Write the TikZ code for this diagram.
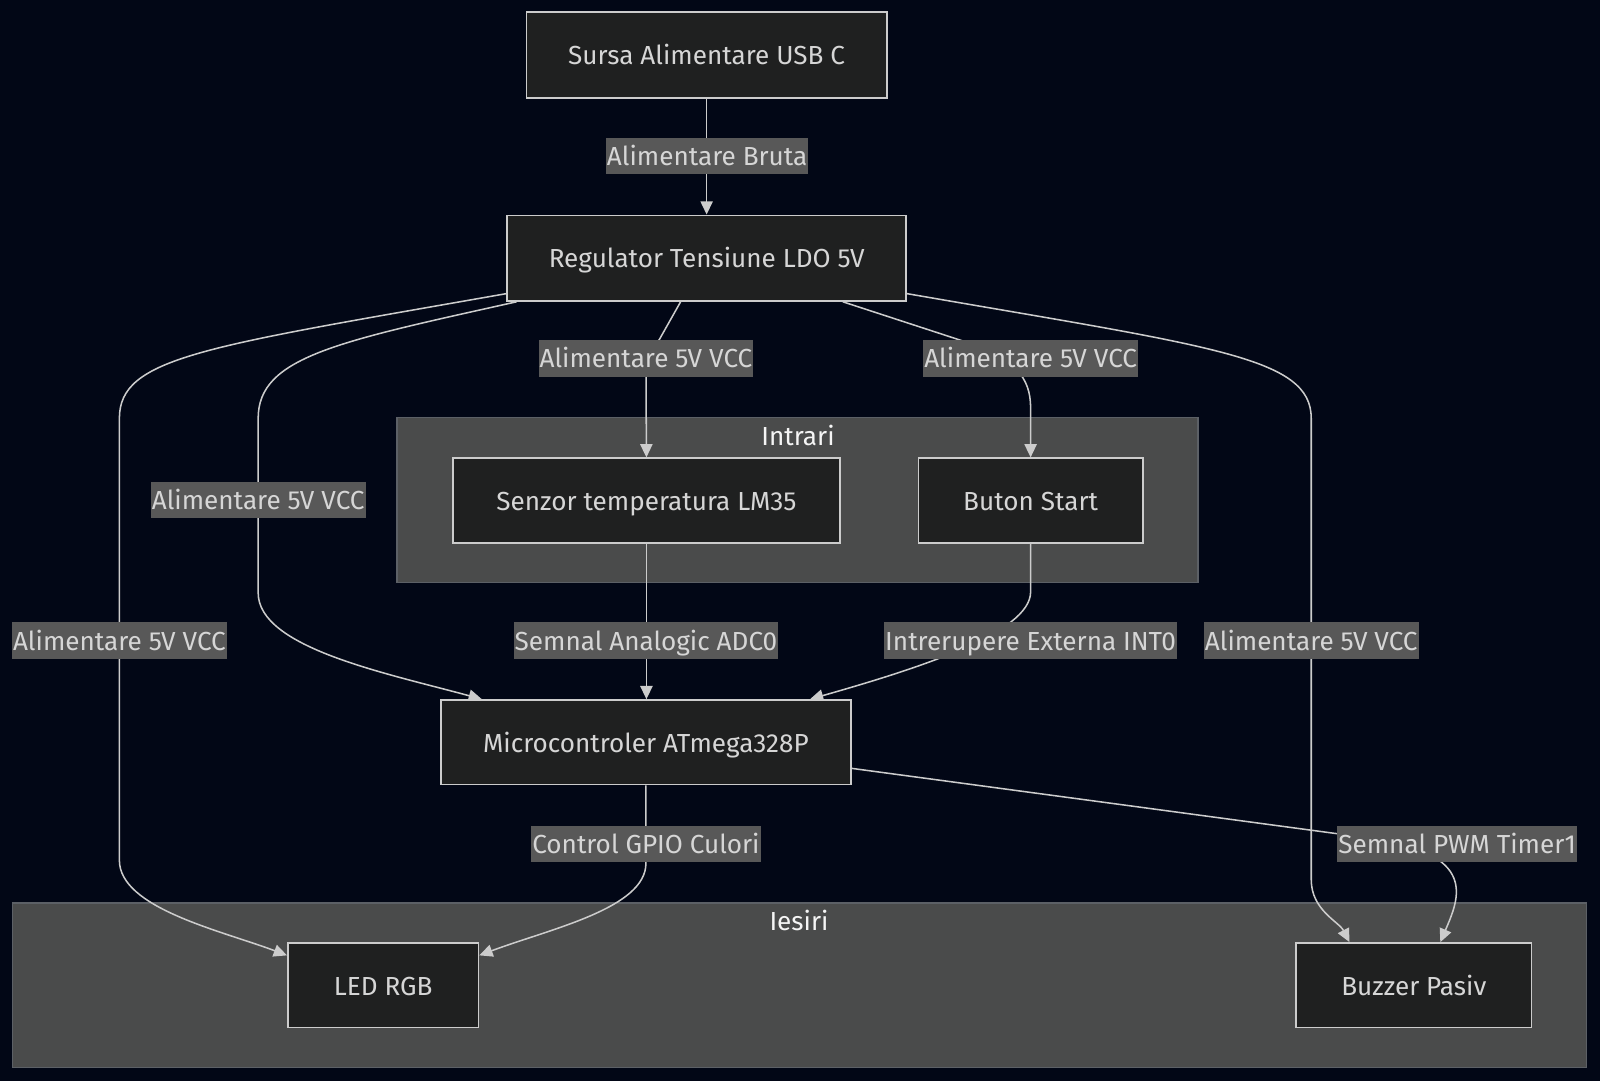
\documentclass[tikz,border=0pt]{standalone}
\usepackage{fontspec}
\setmainfont{Fira Sans}
\usetikzlibrary{arrows.meta}
\definecolor{bgnavy}{RGB}{2,7,22}
\definecolor{boxfill}{RGB}{31,32,32}
\definecolor{boxline}{RGB}{204,204,204}
\definecolor{grpfill}{RGB}{74,75,75}
\definecolor{grpline}{RGB}{92,96,102}
\definecolor{lblfill}{RGB}{88,88,88}
\definecolor{txtgray}{RGB}{214,214,214}
\pgfdeclarelayer{back}
\pgfdeclarelayer{wires}
\pgfsetlayers{back,wires,main}
\tikzset{
	every node/.style={text height=10.7pt, text depth=1.1pt},
	block/.style={draw=boxline, fill=boxfill, line width=0.75pt, text=txtgray, minimum height=42pt, inner sep=0pt},
	group/.style={draw=grpline, fill=grpfill, line width=0.6pt, inner sep=0pt, text height=, text depth=},
	grouptitle/.style={text=white!92!gray, inner sep=0pt},
	wlabel/.style={fill=lblfill, text=txtgray, inner xsep=0.5pt, inner ysep=0pt, minimum height=18pt},
	wire/.style={draw=boxline, line width=0.75pt, -{Triangle[length=6.5pt,width=6pt]}}
}
\begin{document}
\begin{tikzpicture}[x=0.5pt, y=-0.5pt, font=\fontsize{12.8}{15}\selectfont]
	
	\begin{pgfonlayer}{back}
		\fill[bgnavy] (0,0) rectangle (1568,1059.4);
		\node[group, minimum width=392.5pt, minimum height=81pt] (intrari) at (781.5,490) {};
		\node[group, minimum width=771.5pt, minimum height=80.5pt] (iesiri) at (783.5,965.5) {};
	\end{pgfonlayer}
	\node[grouptitle] (tintrari) at (782,427) {Intrari};
	\node[grouptitle] (tiesiri) at (783,902) {Iesiri};
	
	\node[block, minimum width=176.5pt] (sursa) at (692.5,54) {Sursa Alimentare USB C};
	\node[block, minimum width=195.5pt] (reg) at (692.5,253) {Regulator Tensiune LDO 5V};
	\node[block, minimum width=189.5pt, minimum height=41.5pt] (senz) at (633.5,490.5) {Senzor temperatura LM35};
	\node[block, minimum width=110pt, minimum height=41.5pt] (buton) at (1010,490.5) {Buton Start};
	\node[block, minimum width=201pt, minimum height=41.5pt] (micro) at (633,727.5) {Microcontroler ATmega328P};
	\node[block, minimum width=93.5pt, minimum height=41.5pt] (led) at (375.5,965.5) {LED RGB};
	\node[block, minimum width=115.5pt, minimum height=41.5pt] (buzzer) at (1385.5,965.5) {Buzzer Pasiv};
	
	\node[wlabel] (lbruta) at (693,153) {Alimentare Bruta};
	\node[wlabel] (lsenz) at (633,351) {Alimentare 5V VCC};
	\node[wlabel] (lbuton) at (1010,351) {Alimentare 5V VCC};
	\node[wlabel] (lmicro) at (253,490) {Alimentare 5V VCC};
	\node[wlabel] (lled) at (117,628) {Alimentare 5V VCC};
	\node[wlabel] (ladc) at (633,628) {Semnal Analogic ADC0};
	\node[wlabel] (lint) at (1010,628) {Intrerupere Externa INT0};
	\node[wlabel] (lbuzzer) at (1285,628) {Alimentare 5V VCC};
	\node[wlabel] (lgpio) at (633,827) {Control GPIO Culori};
	\node[wlabel] (lpwm) at (1428,827) {Semnal PWM Timer1};
	
	\begin{pgfonlayer}{wires}
		\draw[wire] (sursa.south) -- (reg.north);
		\draw[wire] ([xshift=-12.75pt]reg.south) -- (646,333) .. controls (636,345) and (633,355) .. (lsenz.center) -- (senz.north);
		\draw[wire] ([xshift=66.75pt]reg.south) -- (940,333) .. controls (995,350) and (1010,370) .. (1010,400) -- (buton.north);
		\draw[wire] ([xshift=5pt]reg.south west) .. controls (330,335) and (253,350) .. (253,410) -- (lmicro.center) -- (253,581) .. controls (253,635) and (380,660) .. ([xshift=20.5pt]micro.north west);
		\draw[wire] ([yshift=4pt]reg.south west) .. controls (200,340) and (117,350) .. (117,410) -- (lled.center) -- (117,843) .. controls (117,890) and (217,912) .. ([yshift=-6.5pt]led.north west);
		\draw[wire] ([yshift=4pt]reg.south east) .. controls (1190,340) and (1285,350) .. (1285,410) -- (lbuzzer.center) -- (1285,862) .. controls (1285,892) and (1312,903) .. ([xshift=-31.5pt]buzzer.north);
		\draw[wire] (senz.south) -- (senz.south |- micro.north);
		\draw[wire] (buton.south) -- (1010,580) .. controls (1010,620) and (900,655) .. ([xshift=-20.5pt]micro.north east);
		\draw[wire] (micro.south) -- (633,846) .. controls (633,890) and (540,910) .. ([yshift=-6.5pt]led.north east);
		\draw[wire] ([yshift=-12.75pt]micro.east) -- (1340,821) .. controls (1450,836) and (1430,880) .. ([xshift=13pt]buzzer.north);
	\end{pgfonlayer}
\end{tikzpicture}
\end{document}
